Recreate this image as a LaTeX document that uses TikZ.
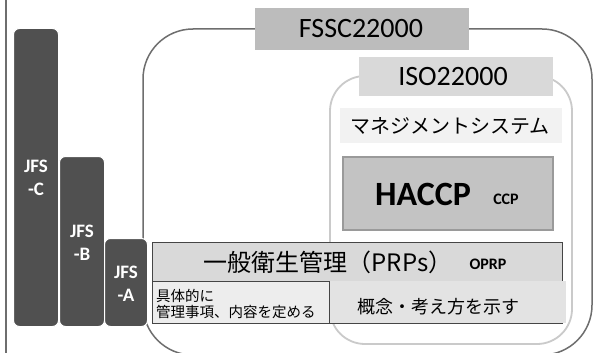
\documentclass[tikz,border=0pt]{standalone}
\usepackage{fontspec}
\setmainfont{Carlito}
\newfontfamily\jp{Noto Sans CJK JP}
\definecolor{bar}{HTML}{505050}
\definecolor{outerline}{HTML}{6E6E6E}
\definecolor{innerline}{HTML}{CACACA}
\definecolor{fsscfill}{HTML}{BCBCBC}
\definecolor{isofill}{HTML}{D9D9D9}
\definecolor{mgmtfill}{HTML}{F2F2F2}
\definecolor{haccpfill}{HTML}{C3C3C3}
\definecolor{haccpline}{HTML}{9A9A9A}
\definecolor{prpfill}{HTML}{D9D9D9}
\definecolor{boxline}{HTML}{454545}
\definecolor{specfill}{HTML}{EDEDED}
\definecolor{conceptfill}{HTML}{E3E3E3}
\newcommand{\fs}[1]{\fontsize{#1}{#1}\selectfont}
\begin{document}
\begin{tikzpicture}[x=1pt,y=-1pt,
  box/.style={rectangle,inner sep=0pt,outer sep=0pt},
  jfsbar/.style={box,fill=bar,draw=white,line width=1pt,rounded corners=6pt},
  jfstext/.style={text=white,font=\bfseries\fs{19},align=center,inner sep=0pt},
  frame/.style={box,rounded corners=#1},
  lbl/.style={inner sep=0pt,text=black}]
\clip (0,0) rectangle (594,353);
\fill[white] (0,0) rectangle (594,353);
% left rule
\coordinate (lt) at (6,0);
\coordinate (lb) at (6,353);
\draw[outerline,line width=1.2pt] (lt) -- (lb);
% outer FSSC frame
\node[frame=50pt,draw=outerline,line width=1.5pt,minimum width=449pt,minimum height=326pt] (outer) at (367.5,192) {};
% inner ISO frame
\node[frame=35pt,draw=innerline,line width=1.8pt,minimum width=242pt,minimum height=268pt] (inner) at (451,210) {};
% JFS bars
\node[jfsbar,minimum width=45pt,minimum height=298pt] (jfsc) at (36,177.5) {};
\node[jfsbar,minimum width=45pt,minimum height=170pt] (jfsb) at (82,241.5) {};
\node[jfsbar,minimum width=43pt,minimum height=88pt] (jfsa) at (126,282.5) {};
\node[jfstext] (jfsct) at (36,178) {JFS\\[4pt]-C};
\node[jfstext] (jfsbt) at (82,243) {JFS\\[4pt]-B};
\node[jfstext] (jfsat) at (126,284) {JFS\\[4pt]-A};
% FSSC label
\node[box,fill=fsscfill,minimum width=214pt,minimum height=42pt] (fssc) at (362,29) {};
\node[lbl,font=\fs{28}] (fssct) at (361,29) {FSSC22000};
% ISO label
\node[box,fill=isofill,minimum width=194pt,minimum height=39pt] (iso) at (456,76.5) {};
\node[lbl,font=\fs{28}] (isot) at (453,77) {ISO22000};
% management system
\node[box,fill=mgmtfill,minimum width=222pt,minimum height=35pt] (mgmt) at (451,125.5) {};
\node[lbl,font=\jp\fs{20}] (mgmtt) at (450,126) {マネジメントシステム};
% HACCP
\node[box,fill=haccpfill,draw=haccpline,line width=1.2pt,minimum width=210pt,minimum height=73pt] (haccp) at (448,193.5) {};
\node[lbl,font=\bfseries\fs{34}] (haccpt) at (423,194) {HACCP};
\node[lbl,font=\bfseries\fs{16}] (ccpt) at (506,199) {CCP};
% PRPs
\node[box,fill=prpfill,draw=boxline,line width=0.9pt,minimum width=410pt,minimum height=81pt] (prp) at (357,282.5) {};
\node[lbl,font=\jp\fs{24}] (prpt) at (328,262) {一般衛生管理（PRPs）};
\node[lbl,font=\bfseries\fs{16}] (oprpt) at (488,264) {OPRP};
% concept
\node[box,fill=conceptfill,minimum width=237pt,minimum height=42pt] (concept) at (447.5,302) {};
\node[lbl,font=\jp\fs{18}] (conceptt) at (438,307) {概念・考え方を示す};
% specific
\node[box,fill=specfill,draw=boxline,line width=0.9pt,minimum width=177pt,minimum height=42pt] (spec) at (240.5,302) {};
\node[lbl,font=\jp\fs{14.5},align=left,anchor=west] (spect) at (156,304) {具体的に\\[2pt]管理事項、内容を定める};
\end{tikzpicture}
\end{document}
